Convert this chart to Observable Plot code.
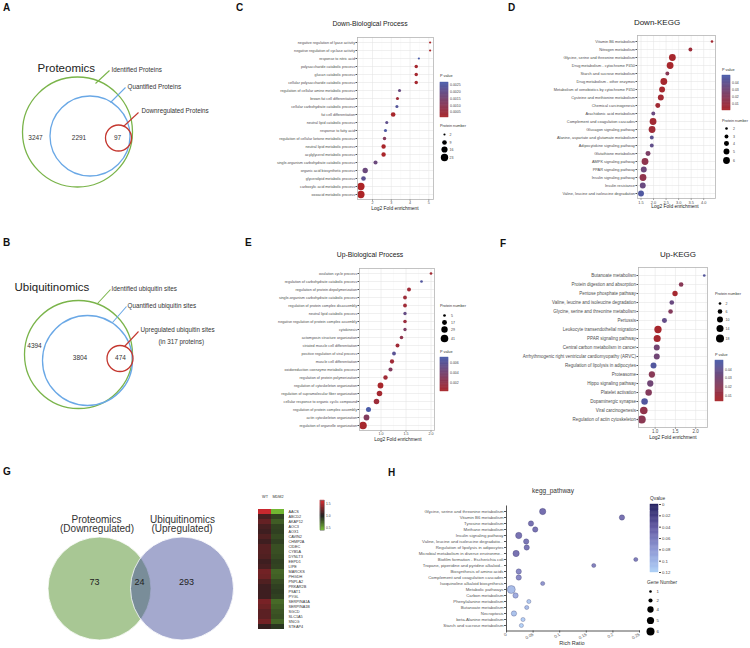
<!DOCTYPE html>
<html><head><meta charset="utf-8">
<script src="https://cdn.jsdelivr.net/npm/d3@7"></script>
<script src="https://cdn.jsdelivr.net/npm/@observablehq/plot@0.6"></script>
<style>
html,body{margin:0;padding:0;background:#fff}
#fig{position:relative;width:750px;height:648px;overflow:hidden;background:#fff;font-family:"Liberation Sans",Arial,Helvetica,sans-serif}
#fig svg{overflow:visible}
</style></head>
<body><div id="fig"></div>
<script>
// ================= DATA =================
// Panel A – proteomics Venn
const vennASets = ["Identified Proteins", "Quantified Proteins", "Downregulated Proteins"];
const vennACounts = [3247, 2291, 97];
// Panel B – ubiquitinomics Venn
const vennBSets = ["Identified ubiquitin sites", "Quantified ubiquitin sites", "Upregulated ubiquitin sites"];
const vennBNote = "(in 317 proteins)";
const vennBCounts = [4394, 3804, 474];

// Panel C – Down-Biological Process
const cTerms = ["negative regulation of lyase activity","negative regulation of cyclase activity","response to nitric acid","polysaccharide catabolic process","glucan catabolic process","cellular polysaccharide catabolic process","regulation of cellular amine metabolic process","brown fat cell differentiation","cellular carbohydrate catabolic process","fat cell differentiation","neutral lipid catabolic process","response to fatty acid","regulation of cellular ketone metabolic process","neutral lipid metabolic process","acylglycerol metabolic process","single-organism carbohydrate catabolic process","organic acid biosynthetic process","glycerolipid metabolic process","carboxylic acid metabolic process","oxoacid metabolic process"];
const cFold  = [5.07,5.07,4.47,4.33,4.33,4.33,3.44,3.33,3.30,3.10,2.76,2.69,2.64,2.59,2.59,2.16,1.61,1.52,1.38,1.38];
const cPval  = [0.00008,0.00008,0.0027,0.0002,0.0002,0.0002,0.0019,0.0004,0.0024,0.00015,0.0021,0.0026,0.0011,0.0001,0.0001,0.0018,0.0018,0.0022,0.00001,0.00001];
const cCount = [2,2,2,5,5,5,4,4,4,9,4,4,5,8,8,7,12,9,23,23];

// Panel D – Down-KEGG
const dTerms = ["Vitamin B6 metabolism","Nitrogen metabolism","Glycine, serine and threonine metabolism","Drug metabolism - cytochrome P450","Starch and sucrose metabolism","Drug metabolism - other enzymes","Metabolism of xenobiotics by cytochrome P450","Cysteine and methionine metabolism","Chemical carcinogenesis","Arachidonic acid metabolism","Complement and coagulation cascades","Glucagon signaling pathway","Alanine, aspartate and glutamate metabolism","Adipocytokine signaling pathway","Glutathione metabolism","AMPK signaling pathway","PPAR signaling pathway","Insulin signaling pathway","Insulin resistance","Valine, leucine and isoleucine degradation"];
const dFold  = [4.33,3.47,2.75,2.66,2.55,2.41,2.34,2.29,2.17,1.99,1.98,1.94,1.93,1.93,1.78,1.66,1.61,1.58,1.57,1.50];
const dPval  = [0.004,0.007,0.002,0.002,0.018,0.003,0.003,0.004,0.005,0.034,0.005,0.006,0.040,0.038,0.024,0.015,0.032,0.014,0.034,0.047];
const dCount = [2,3,6,6,3,6,5,5,4,3,6,6,3,3,4,6,5,6,5,5];

// Panel E – Up-Biological Process
const eTerms = ["ovulation cycle process","regulation of carbohydrate catabolic process","regulation of protein depolymerization","single-organism carbohydrate catabolic process","regulation of protein complex disassembly","neutral lipid catabolic process","negative regulation of protein complex assembly","cytokinesis","actomyosin structure organization","striated muscle cell differentiation","positive regulation of viral process","muscle cell differentiation","oxidoreduction coenzyme metabolic process","regulation of protein polymerization","regulation of cytoskeleton organization","regulation of supramolecular fiber organization","cellular response to organic cyclic compound","regulation of protein complex assembly","actin cytoskeleton organization","regulation of organelle organization"];
const eFold  = [2.00,1.81,1.56,1.48,1.48,1.48,1.48,1.48,1.41,1.33,1.26,1.22,1.19,1.09,0.99,0.97,0.91,0.75,0.71,0.64];
const ePval  = [0.0006,0.0066,0.0008,0.0010,0.0008,0.0052,0.0012,0.0034,0.0020,0.0008,0.0060,0.0008,0.0030,0.0008,0.0002,0.0005,0.0010,0.0072,0.0030,0.0003];
const eCount = [5,5,11,10,10,8,9,8,9,11,10,13,12,14,24,22,22,18,24,41];

// Panel F – Up-KEGG
const fTerms = ["Butanoate metabolism","Protein digestion and absorption","Pentose phosphate pathway","Valine, leucine and isoleucine degradation","Glycine, serine and threonine metabolism","Pertussis","Leukocyte transendothelial migration","PPAR signaling pathway","Central carbon metabolism in cancer","Arrhythmogenic right ventricular cardiomyopathy (ARVC)","Regulation of lipolysis in adipocytes","Proteasome","Hippo signaling pathway","Platelet activation","Dopaminergic synapse","Viral carcinogenesis","Regulation of actin cytoskeleton"];
const fFold  = [2.21,1.64,1.49,1.41,1.38,1.23,1.07,1.05,1.04,1.04,0.96,0.92,0.88,0.84,0.74,0.72,0.67];
const fPval  = [0.045,0.020,0.006,0.035,0.022,0.038,0.005,0.006,0.030,0.031,0.046,0.020,0.031,0.022,0.046,0.016,0.019];
const fCount = [2,6,8,6,6,7,15,14,10,10,10,11,11,12,12,16,18];

// Panel G – overlap Venn + heatmap
const gSetTitles = ["Proteomics", "Ubiquitinomics"];
const gSetSubtitles = ["(Downregulated)", "(Upregulated)"];
const gCounts = [73, 24, 293];
const heatSamples = ["WT", "MDM2"];
const heatGenes = ["AACS","ABCD2","AKAP12","AOC3","AOX1","CAVIN2","CHMP2A","CIDEC","CYB5A","DYNLT3","EEPD1","LIPE","MARCKS","PHGDH","PNPLA2","PRKAR2B","PSAT1","PYGL","SERPINA1A","SERPINA1B","SGCD","SLC1A5","SNCG","STEAP4"];
const heatWT   = [1.60,1.15,1.25,1.15,1.12,1.18,1.12,1.20,1.20,1.18,1.12,1.15,1.30,1.28,1.18,1.12,1.12,1.12,1.32,1.28,1.22,1.22,1.30,1.08];
const heatMDM2 = [0.40,0.85,0.75,0.85,0.86,0.82,0.86,0.80,0.80,0.82,0.86,0.85,0.72,0.74,0.82,0.86,0.88,0.86,0.70,0.74,0.78,0.80,0.72,0.90];

// Panel H – kegg_pathway
const hTerms = ["Glycine, serine and threonine metabolism","Vitamin B6 metabolism","Tyrosine metabolism","Methane metabolism","Insulin signaling pathway","Valine, leucine and isoleucine degradatio...","Regulation of lipolysis in adipocytes","Microbial metabolism in diverse environme...","Biofilm formation - Escherichia coli","Tropane, piperidine and pyridine alkaloid...","Biosynthesis of amino acids","Complement and coagulation cascades","Isoquinoline alkaloid biosynthesis","Metabolic pathways","Carbon metabolism","Phenylalanine metabolism","Butanoate metabolism","Necroptosis","beta-Alanine metabolism","Starch and sucrose metabolism"];
const hRatio = [0.068,0.217,0.046,0.054,0.023,0.037,0.038,0.018,0.243,0.164,0.023,0.023,0.068,0.009,0.017,0.042,0.038,0.014,0.031,0.028];
const hQval  = [0.042,0.045,0.045,0.045,0.045,0.048,0.048,0.045,0.052,0.055,0.062,0.062,0.070,0.100,0.088,0.110,0.100,0.105,0.115,0.118];
const hGenes = [4,3,3,3,4,3,3,4,2,2,3,3,2,6,3,2,2,3,2,2];

// Legend / tick labels
const cSizeBreaks = [2,9,16,23];
const dSizeBreaks = [2,3,4,5,6];
const eSizeBreaks = [5,17,29,41];
const fSizeBreaks = [2,6,10,14,18];
const hSizeBreaks = [1,2,4,5,6];
const cPTicks = [0.0005,0.0010,0.0015,0.0020,0.0025];
const dPTicks = [0.01,0.02,0.03,0.04];
const ePTicks = [0.002,0.004,0.006];
const fPTicks = [0.01,0.02,0.03,0.04];
const hQTicks = [0,0.02,0.04,0.06,0.08,0.1,0.12];
const heatTicks = [0.5,1.0,1.5];

// ================= HELPERS =================
const W = 750, H = 648;
const FONT = "Liberation Sans, Arial, Helvetica, sans-serif";
const fig = document.getElementById("fig");
function put(node, x, y) {
  node.style.position = "absolute"; node.style.left = x + "px"; node.style.top = y + "px";
  fig.appendChild(node); return node;
}
function txt(s, x, y, size, {anchor = "start", weight = "normal", color = "#222", ls = 0} = {}) {
  const d = document.createElement("div");
  d.textContent = s;
  d.style.cssText = `position:absolute;white-space:nowrap;font-size:${size}px;line-height:${size}px;font-weight:${weight};color:${color};letter-spacing:${ls}px;`;
  d.style.top = (y - size / 2) + "px";
  d.style.left = x + "px";
  if (anchor === "middle") d.style.transform = "translateX(-50%)";
  if (anchor === "end") d.style.transform = "translateX(-100%)";
  fig.appendChild(d);
}
const baseStyle = (fs, color = "#4d4d4d") => ({fontSize: fs + "px", fontFamily: FONT, color, background: "transparent", overflow: "visible"});
const pColor = (domain) => ({type: "linear", domain, range: ["#a9262a", "#4a5ca9"], interpolate: "rgb"});

function dotPanel(o) {
  const rows = o.terms.map((t, i) => ({term: t, fe: o.fe[i], p: o.p[i], n: o.n[i]}));
  const plot = Plot.plot({
    width: o.w, height: o.h, marginLeft: o.ml, marginRight: o.mr, marginTop: o.mt, marginBottom: o.mb,
    style: baseStyle(o.fs),
    x: {domain: o.xd, ticks: o.xt, tickFormat: o.fmt, tickSize: 1.5, tickPadding: 0.8, label: null},
    y: {type: "point", domain: o.terms, padding: 0.6, tickSize: 1.5, tickPadding: 1, label: null},
    r: o.r, color: o.color,
    marks: [
      Plot.ruleX(o.minor, {stroke: "#f2f2f2", strokeWidth: 0.35}),
      Plot.ruleX(o.xt, {stroke: "#e3e3e3", strokeWidth: 0.55}),
      Plot.ruleY(o.terms, {stroke: "#e3e3e3", strokeWidth: 0.55}),
      Plot.dot(rows, {x: "fe", y: "term", r: "n", fill: "p"}),
      Plot.frame({stroke: "#b5b5b5", strokeWidth: 0.8})
    ]
  });
  put(plot, o.left, o.top);
}
function colorbar({left, top, w = 8, h, domain, ticks, color, fmt, fs = 3.7, reverse = false, tickSize = 0, border = null}) {
  const [lo, hi] = domain, N = 80, step = (hi - lo) / N;
  const stops = d3.range(N).map(i => lo + step * i);
  const p = Plot.plot({
    width: w + 24, height: h, marginLeft: 0, marginRight: 24, marginTop: 0, marginBottom: 0,
    style: baseStyle(fs, "#444"),
    x: {domain: [0, 1], axis: null},
    y: {domain: reverse ? [hi, lo] : [lo, hi], axis: "right", ticks, tickFormat: fmt, tickSize, tickPadding: 1.5, label: null},
    color,
    marks: [
      Plot.rect(stops, {x1: 0, x2: 1, y1: d => d, y2: d => d + step, fill: d => d + step / 2, stroke: d => d + step / 2, strokeWidth: 0.4}),
      border ? Plot.frame({stroke: border, strokeWidth: 0.5}) : null
    ]
  });
  put(p, left, top);
}
function sizeLegend({left, top, values, ys, r, dotX = 4, lx = 9, fs = 3.7}) {
  const rows = values.map((v, i) => ({v, y: ys[i] - top}));
  const h = ys[ys.length - 1] - top + 6;
  const p = Plot.plot({
    width: 24, height: h, margin: 0,
    style: baseStyle(fs, "#444"),
    x: {domain: [0, 24], range: [0, 24], axis: null},
    y: {domain: [0, h], range: [0, h], axis: null},
    r,
    marks: [
      Plot.dot(rows, {x: dotX, y: "y", r: "v", fill: "black"}),
      Plot.text(rows, {x: lx, y: "y", text: d => String(d.v), textAnchor: "start", fontSize: fs, fill: "#444"})
    ]
  });
  put(p, left, top);
}

// ================= PANEL LETTERS =================
[["A",3,8],["B",3,243],["C",236,8],["D",508,8],["E",245,243],["F",500,244],["G",3,472],["H",388,473]]
  .forEach(([s,x,y]) => txt(s, x, y, 10, {weight: "bold", color: "#111"}));

// ================= A & B: nested Venns =================
const lay = {
  A: {circles: [[77,131.5,55],[89.5,135.5,40],[118,137.5,13]], counts: [[35,137],[78.5,137],[117,137]],
      leaders: [[95,83,109,70],[110,102,125,87],[123,126,138,112]], labels: [[111,69],[127,86],[141,110]], title: [37,68]},
  B: {circles: [[78,354,54],[87,360,45],[119.5,358,13]], counts: [[34,345],[79.5,357],[120,357]],
      leaders: [[97,303,110,289],[112,322,126,306],[124,346,138,331]], labels: [[111,288],[127,305],[140,329]], title: [14,287], note: [158,341]}
};
const ringColors = ["#7ab44a", "#6aa8e6", "#c4372f"];
function vennRows(L, sets, counts) {
  return {
    circles: sets.map((s, i) => ({s, cx: L.circles[i][0], cy: L.circles[i][1], r: L.circles[i][2], c: ringColors[i]})),
    counts: counts.map((n, i) => ({n, x: L.counts[i][0], y: L.counts[i][1]})),
    leaders: sets.map((s, i) => ({x1: L.leaders[i][0], y1: L.leaders[i][1], x2: L.leaders[i][2], y2: L.leaders[i][3], c: ringColors[i]})),
    labels: sets.map((s, i) => ({s, x: L.labels[i][0], y: L.labels[i][1]}))
  };
}
const va = vennRows(lay.A, vennASets, vennACounts), vb = vennRows(lay.B, vennBSets, vennBCounts);
const vennMarks = (v, title, tpos) => [
  Plot.dot(v.circles, {x: "cx", y: "cy", r: "r", stroke: "c", strokeWidth: 1.3, fill: "none"}),
  Plot.link(v.leaders, {x1: "x1", y1: "y1", x2: "x2", y2: "y2", stroke: "c", strokeWidth: 1.1}),
  Plot.text(v.labels, {x: "x", y: "y", text: "s", textAnchor: "start", fontSize: 6.3, fill: "#333"}),
  Plot.text(v.counts, {x: "x", y: "y", text: d => String(d.n), fontSize: 6.5, fill: "#333"}),
  Plot.text([title], {x: tpos[0], y: tpos[1], text: d => d, textAnchor: "start", fontSize: 11.5, fill: "#222"})
];
put(Plot.plot({
  width: 240, height: 445, margin: 0, style: baseStyle(6, "#333"),
  x: {domain: [0, 240], range: [0, 240], axis: null}, y: {domain: [0, 445], range: [0, 445], axis: null},
  r: {type: "identity"},
  marks: [
    ...vennMarks(va, "Proteomics", lay.A.title),
    ...vennMarks(vb, "Ubiquitinomics", lay.B.title),
    Plot.text([vennBNote], {x: lay.B.note[0], y: lay.B.note[1], text: d => d, textAnchor: "start", fontSize: 6.3, fill: "#333"})
  ]
}), 0, 0);

// ================= C =================
const cR = {type: "sqrt", domain: [0, 23], range: [0, 3.7]};
const cCol = pColor([0.0001, 0.0027]);
dotPanel({terms: cTerms, fe: cFold, p: cPval, n: cCount, left: 240, top: 30, w: 195, h: 180, ml: 117, mr: 2, mt: 7, mb: 11,
  fs: 3.7, xd: [1.2, 5.25], xt: [2,3,4,5], minor: [1.5,2.5,3.5,4.5], fmt: d => String(d), r: cR, color: cCol});
txt("Down-Biological Process", 370, 24, 6.8, {anchor: "middle"});
txt("Log2 Fold enrichment", 395, 209, 4.9, {anchor: "middle"});
txt("P value", 440, 77, 3.8, {color: "#333"});
colorbar({left: 440, top: 82, h: 35, domain: [0.0001, 0.0027], ticks: cPTicks, color: cCol, fmt: d => d.toFixed(4), fs: 3.5});
txt("Protein number", 440, 127, 3.8, {color: "#333"});
sizeLegend({left: 440, top: 129, values: cSizeBreaks, ys: [134,142,149,157], r: cR, dotX: 4, lx: 9, fs: 3.5});

// ================= D =================
const dR = {type: "sqrt", domain: [2, 6], range: [1.3, 3.4]};
const dCol = pColor([0.001, 0.05]);
dotPanel({terms: dTerms, fe: dFold, p: dPval, n: dCount, left: 470, top: 28, w: 247, h: 182, ml: 167, mr: 2, mt: 7, mb: 12,
  fs: 3.9, xd: [1.36, 4.47], xt: [1.5,2,2.5,3,3.5,4], minor: [1.75,2.25,2.75,3.25,3.75,4.25], fmt: d => d.toFixed(1), r: dR, color: dCol});
txt("Down-KEGG", 657, 23, 8, {anchor: "middle"});
txt("Log2 Fold enrichment", 675, 207.5, 4.9, {anchor: "middle"});
txt("P value", 722, 71, 3.8, {color: "#333"});
colorbar({left: 722, top: 75, h: 35, domain: [0.001, 0.05], ticks: dPTicks, color: dCol, fmt: d => d.toFixed(2), fs: 3.5});
txt("Protein number", 722, 122, 3.8, {color: "#333"});
sizeLegend({left: 722, top: 124, values: dSizeBreaks, ys: [128,136,143,151,160], r: dR, dotX: 4, lx: 10.5, fs: 3.5});

// ================= E =================
const eR = {type: "sqrt", domain: [0, 41], range: [0, 3.8]};
const eCol = pColor([0.0001, 0.0072]);
dotPanel({terms: eTerms, fe: eFold, p: ePval, n: eCount, left: 240, top: 261, w: 196, h: 180, ml: 119, mr: 2, mt: 7, mb: 11,
  fs: 3.7, xd: [0.57, 2.07], xt: [1,1.5,2], minor: [0.75,1.25,1.75], fmt: d => d.toFixed(1), r: eR, color: eCol});
txt("Up-Biological Process", 370, 255, 6.8, {anchor: "middle"});
txt("Log2 Fold enrichment", 398, 440, 4.9, {anchor: "middle"});
txt("Protein number", 440, 307, 3.8, {color: "#333"});
sizeLegend({left: 440, top: 310, values: eSizeBreaks, ys: [315,322,329,338], r: eR, dotX: 4, lx: 10.5, fs: 3.5});
txt("P value", 440, 353, 3.8, {color: "#333"});
colorbar({left: 440, top: 357, h: 34, domain: [0.0001, 0.0072], ticks: ePTicks, color: eCol, fmt: d => d.toFixed(3), fs: 3.5});

// ================= F =================
const fR = {type: "sqrt", domain: [0, 18], range: [0, 4]};
const fCol = pColor([0.004, 0.05]);
dotPanel({terms: fTerms, fe: fFold, p: fPval, n: fCount, left: 470, top: 260, w: 239, h: 178, ml: 168, mr: 2, mt: 7, mb: 11,
  fs: 4.5, xd: [0.59, 2.29], xt: [1,1.5,2], minor: [0.75,1.25,1.75,2.25], fmt: d => d.toFixed(1), r: fR, color: fCol});
txt("Up-KEGG", 678, 255, 8, {anchor: "middle"});
txt("Log2 Fold enrichment", 673, 438, 4.9, {anchor: "middle"});
txt("Protein number", 715, 295, 3.8, {color: "#333"});
sizeLegend({left: 715, top: 298, values: fSizeBreaks, ys: [303,311,319,328,338], r: fR, dotX: 4.5, lx: 10, fs: 3.5});
txt("P value", 715, 356, 3.8, {color: "#333"});
colorbar({left: 715, top: 360, h: 41, domain: [0.004, 0.05], ticks: fPTicks, color: fCol, fmt: d => d.toFixed(2), fs: 3.5});

// ================= G: two-set Venn =================
const gLay = {circles: [[99,588,51.5],[181.5,588,51.5]], fills: ["#518f29", "#49539d"],
  titles: [[96,519],[182,519]], subs: [[96.5,528.5],[181.5,528.5]], counts: [[94,582],[139,582],[186,582]]};
const gCircles = gSetTitles.map((s, i) => ({s, cx: gLay.circles[i][0], cy: gLay.circles[i][1], r: gLay.circles[i][2], c: gLay.fills[i]}));
put(Plot.plot({
  width: 250, height: 208, margin: 0, style: baseStyle(9, "#222"),
  x: {domain: [0, 250], range: [0, 250], axis: null}, y: {domain: [440, 648], range: [0, 208], axis: null},
  r: {type: "identity"},
  marks: [
    Plot.dot(gCircles, {x: "cx", y: "cy", r: "r", fill: "c", fillOpacity: 0.5, stroke: "white", strokeWidth: 0.8}),
    Plot.text(gSetTitles, {x: (d, i) => gLay.titles[i][0], y: (d, i) => gLay.titles[i][1], text: d => d, fontSize: 10, fill: "#333", letterSpacing: "0.5px"}),
    Plot.text(gSetSubtitles, {x: (d, i) => gLay.subs[i][0], y: (d, i) => gLay.subs[i][1], text: d => d, fontSize: 10, fill: "#333", letterSpacing: "0.5px"}),
    Plot.text(gCounts, {x: (d, i) => gLay.counts[i][0], y: (d, i) => gLay.counts[i][1], text: d => String(d), fontSize: 9, fill: "#222"})
  ]
}), 0, 440);

// ================= G: heatmap =================
const heatCells = heatGenes.flatMap((g, i) => [{sample: "WT", gene: g, v: heatWT[i]}, {sample: "MDM2", gene: g, v: heatMDM2[i]}]);
const heatCol = {type: "linear", domain: [0.4, 1.0, 1.6], range: ["#72b631", "#1c1c1c", "#c8282e"], interpolate: "rgb", clamp: true};
put(Plot.plot({
  width: 67, height: 149, marginLeft: 0, marginRight: 40, marginTop: 9, marginBottom: 0,
  style: baseStyle(3.8, "#333"),
  x: {type: "band", domain: heatSamples, padding: 0, axis: "top", tickSize: 0, tickPadding: 2, label: null},
  y: {type: "band", domain: heatGenes, padding: 0, axis: "right", tickSize: 0, tickPadding: 4, label: null},
  color: heatCol,
  marks: [Plot.cell(heatCells, {x: "sample", y: "gene", fill: "v", inset: 0})]
}), 257, 490);
colorbar({left: 320, top: 500, w: 4, h: 30, domain: [0.37, 1.67], ticks: heatTicks, color: heatCol, fmt: d => d.toFixed(1), fs: 3.3, border: "#777"});

// ================= H =================
const hRows = hTerms.map((t, i) => ({term: t, ratio: hRatio[i], q: hQval[i], n: hGenes[i]}));
const hR = {type: "sqrt", domain: [1, 6], range: [1.3, 4]};
const hCol = {type: "linear", domain: [0, 0.04, 0.08, 0.12], range: ["#1d1a5b", "#5b529e", "#8a94d2", "#aacdf6"], interpolate: "rgb"};
put(Plot.plot({
  width: 290, height: 168, marginLeft: 146, marginRight: 11, marginTop: 25.5, marginBottom: 17.5,
  style: baseStyle(4.3, "#555"),
  x: {domain: [0, 0.25], ticks: [0,0.05,0.1,0.15,0.2,0.25], tickFormat: d => String(d), tickRotate: -30, tickSize: 2, tickPadding: 1, line: true, label: null},
  y: {type: "point", domain: hTerms, padding: 0.4, tickSize: 2, tickPadding: 1, line: true, label: null},
  r: hR, color: hCol,
  marks: [Plot.dot(hRows, {x: "ratio", y: "term", r: "n", fill: "q", fillOpacity: 0.85, stroke: "#2d2b5e", strokeOpacity: 0.55, strokeWidth: 0.5})]
}), 360, 480);
txt("kegg_pathway", 553, 491, 6.5, {anchor: "middle", color: "#333"});
txt("Rich Ratio", 572, 644, 5.5, {anchor: "middle", color: "#333"});
txt("Qvalue", 650, 499, 4.8, {color: "#333"});
colorbar({left: 650, top: 504, w: 8, h: 68, domain: [0, 0.12], ticks: hQTicks, color: hCol, fmt: d => String(d), fs: 4.3, reverse: true, tickSize: 2});
txt("Gene Number", 647, 583, 4.8, {color: "#333"});
sizeLegend({left: 646, top: 586, values: hSizeBreaks, ys: [591,600,609,620,631], r: hR, dotX: 4, lx: 10, fs: 4.3});
</script>
</body></html>
